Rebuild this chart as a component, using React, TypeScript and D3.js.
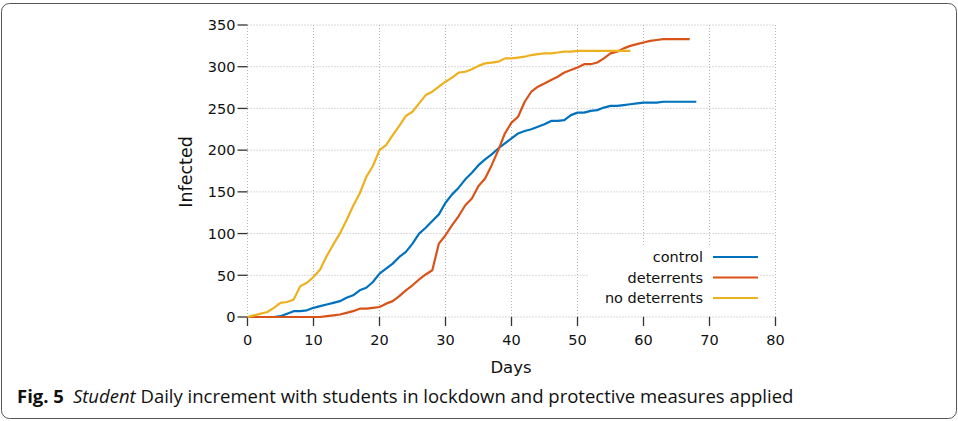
import React from "react";
import * as d3 from "d3";

const controlValues = [0,0,0,0,0,1,4,7,7,8,11,13,15,17,19,23,26,32,35,42,52,58,64,72,78,88,100,107,115,123,137,147,155,165,173,182,189,195,202,208,214,220,223,225,228,231,235,235,236,242,245,245,247,248,251,253,253,254,255,256,257,257,257,258,258,258,258,258,258];
const deterrentsValues = [0,0,0,0,0,0,0,0,0,0,0,0,1,2,3,5,7,10,10,11,12,16,19,25,32,38,45,51,56,88,98,110,121,134,142,157,166,182,200,220,233,240,258,270,276,280,284,288,293,296,299,303,303,305,310,316,318,322,325,327,329,331,332,333,333,333,333,333];
const noDeterrentsValues = [0,2,4,6,11,17,18,21,37,41,48,57,73,87,100,116,133,148,168,181,200,206,218,229,241,246,256,266,270,276,282,287,293,294,297,301,304,305,306,310,310,311,312,314,315,316,316,317,318,318,319,319,319,319,319,319,319,319,319];

const seriesNames = ["control", "deterrents", "no deterrents"];
const seriesColors = ["#0072BD", "#D95319", "#EDB120"];
const xTicks = [0, 10, 20, 30, 40, 50, 60, 70, 80];
const yTicks = [0, 50, 100, 150, 200, 250, 300, 350];
const xLabel = "Days";
const yLabel = "Infected";

export default function App() {
  const W = 958, H = 421;
  const x = d3.scaleLinear().domain([0, 80]).range([247.5, 775.5]);
  const y = d3.scaleLinear().domain([0, 350]).range([317, 25]);
  const line = d3.line<number>().x((_, i) => x(i)).y((v) => y(v));
  const series = [controlValues, deterrentsValues, noDeterrentsValues];
  const font = "'DejaVu Sans', sans-serif";
  const gridColor = "#b4b4b4";
  const axisColor = "#333";
  const textColor = "#111";

  return (
    <svg width={W} height={H} style={{ position: "absolute", left: 0, top: 0, background: "#fff" }}>
      <rect x={1.5} y={3.5} width={955} height={415} rx={8} ry={8} fill="#fff" stroke="#555" strokeWidth={1} />
      {/* grid */}
      {xTicks.map((t) => (
        <line key={"gx" + t} x1={x(t)} x2={x(t)} y1={y(0)} y2={y(350)} stroke={gridColor} strokeWidth={1} strokeDasharray="1 2" />
      ))}
      {yTicks.map((t) => (
        <line key={"gy" + t} x1={x(0)} x2={x(80)} y1={y(t)} y2={y(t)} stroke={gridColor} strokeWidth={1} strokeDasharray="1 2" />
      ))}
      {/* legend background */}
      <rect x={588} y={247} width={172} height={68} fill="#fff" />
      {/* ticks */}
      {yTicks.map((t) => (
        <g key={"ty" + t}>
          <line x1={x(0) - 10} x2={x(0)} y1={y(t)} y2={y(t)} stroke={axisColor} strokeWidth={1.3} />
          <text x={x(0) - 12} y={y(t)} dy="0.36em" textAnchor="end" fontFamily={font} fontSize={14.5} fill={textColor}>{t}</text>
        </g>
      ))}
      {xTicks.map((t) => (
        <g key={"tx" + t}>
          <line x1={x(t)} x2={x(t)} y1={y(0)} y2={y(0) + 9} stroke={axisColor} strokeWidth={1.3} />
          <text x={x(t)} y={340} dy="0.36em" textAnchor="middle" fontFamily={font} fontSize={14.5} fill={textColor}>{t}</text>
        </g>
      ))}
      <text x={511} y={367} dy="0.36em" textAnchor="middle" fontFamily={font} fontSize={16.5} fill={textColor}>{xLabel}</text>
      <text transform={`translate(186,172) rotate(-90)`} dy="0.36em" textAnchor="middle" fontFamily={font} fontSize={17.5} fill={textColor}>{yLabel}</text>
      {/* lines */}
      {series.map((s, i) => (
        <path key={"s" + i} d={line(s) || ""} fill="none" stroke={seriesColors[i]} strokeWidth={2.2} strokeLinejoin="round" />
      ))}
      {/* legend */}
      {seriesNames.map((n, i) => (
        <g key={"l" + i}>
          <text x={703} y={257 + i * 20.5} dy="0.36em" textAnchor="end" fontFamily={font} fontSize={14.5} fill={textColor}>{n}</text>
          <line x1={713} x2={758} y1={257 + i * 20.5} y2={257 + i * 20.5} stroke={seriesColors[i]} strokeWidth={2.2} />
        </g>
      ))}
      {/* caption */}
      <text x={17} y={403} fontFamily="'Open Sans', 'Noto Sans', sans-serif" fontSize={18.5} fill={textColor}>
        <tspan fontWeight="bold">Fig. 5</tspan>
        <tspan dx={9} fontStyle="italic">Student</tspan>
        <tspan> Daily increment with students in lockdown and protective measures applied</tspan>
      </text>
    </svg>
  );
}
